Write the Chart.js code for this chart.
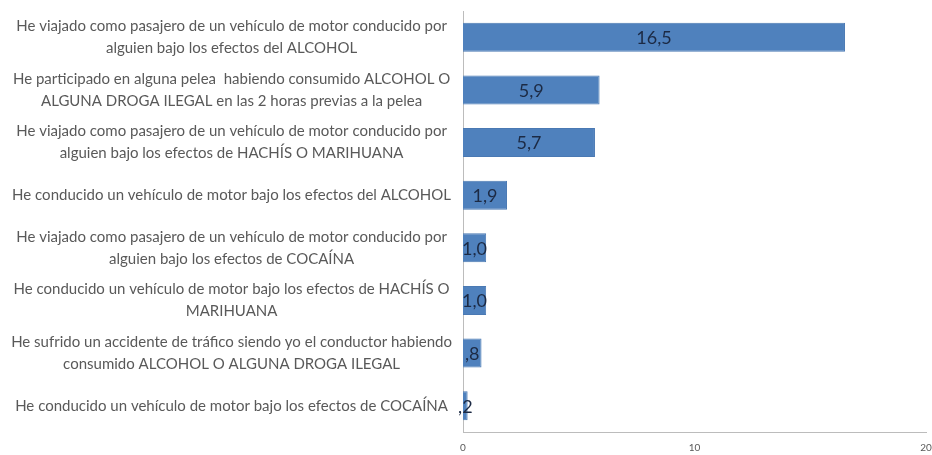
<!DOCTYPE html>
<html>
<head>
<meta charset="utf-8">
<script src="https://cdn.jsdelivr.net/npm/chart.js@4"></script>
<style>
  html, body { margin: 0; padding: 0; background: #fff; }
  #wrap { width: 932px; height: 455px; }
</style>
</head>
<body>
<div id="wrap"><canvas id="bar-chart"></canvas></div>
<script>
// conductas de riesgo (%)
const categorias = [
    ['He viajado como pasajero de un vehículo de motor conducido por', 'alguien bajo los efectos del ALCOHOL'],
    ['He participado en alguna pelea  habiendo consumido ALCOHOL O', 'ALGUNA DROGA ILEGAL en las 2 horas previas a la pelea'],
    ['He viajado como pasajero de un vehículo de motor conducido por', 'alguien bajo los efectos de HACHÍS O MARIHUANA'],
    'He conducido un vehículo de motor bajo los efectos del ALCOHOL',
    ['He viajado como pasajero de un vehículo de motor conducido por', 'alguien bajo los efectos de COCAÍNA'],
    ['He conducido un vehículo de motor bajo los efectos de HACHÍS O', 'MARIHUANA'],
    ['He sufrido un accidente de tráfico siendo yo el conductor habiendo', 'consumido ALCOHOL O ALGUNA DROGA ILEGAL'],
    'He conducido un vehículo de motor bajo los efectos de COCAÍNA'
]
const valores = [16.5, 5.9, 5.7, 1.9, 1.0, 1.0, 0.8, 0.2]
const ticksX = [0, 10, 20]

// formato tipo excel: coma decimal y sin cero delante
function formato(v) {
    let s = v.toFixed(1).replace('.', ',')
    if (s.startsWith('0,')) s = s.substring(1)
    return s
}

const etiquetasValor = {
    id: 'etiquetasValor',
    afterDatasetsDraw(chart) {
        const ctx = chart.ctx
        const meta = chart.getDatasetMeta(0)
        ctx.save()
        ctx.font = '18px Lato'
        ctx.fillStyle = '#1c2a44'
        ctx.textAlign = 'center'
        ctx.textBaseline = 'middle'
        meta.data.forEach(function (bar, i) {
            ctx.fillText(formato(valores[i]), (bar.x + bar.base) / 2, bar.y + 1)
        })
        ctx.restore()
    }
}

new Chart(document.getElementById('bar-chart'), {
    type: 'bar',
    data: {
        labels: categorias,
        datasets: [{
            data: valores,
            backgroundColor: '#4f81bd',
            borderColor: '#4a79b3',
            borderWidth: 1,
            barPercentage: 0.55,
            categoryPercentage: 1
        }]
    },
    options: {
        indexAxis: 'y',
        responsive: true,
        maintainAspectRatio: false,
        animation: false,
        layout: { padding: { top: 11, right: 6, bottom: 1, left: 0 } },
        plugins: {
            legend: { display: false },
            tooltip: { enabled: false }
        },
        scales: {
            x: {
                min: 0,
                max: 20,
                afterBuildTicks(scale) {
                    scale.ticks = ticksX.map(v => ({ value: v }))
                },
                afterFit(scale) {
                    scale.height = 22
                    scale.paddingLeft = 0
                    scale.paddingRight = 0
                },
                grid: { display: false, drawTicks: false },
                border: { display: true, color: '#bcbcbc', width: 1 },
                ticks: {
                    padding: 10,
                    color: '#595959',
                    font: { family: 'Lato', size: 10 },
                    maxRotation: 0
                }
            },
            y: {
                grid: { display: false, drawTicks: false },
                border: { display: true, color: '#bcbcbc', width: 1 },
                afterFit(scale) {
                    scale.width = 463
                    scale.paddingTop = 0
                    scale.paddingBottom = 0
                },
                ticks: {
                    crossAlign: 'center',
                    padding: 11,
                    color: '#595959',
                    font: { family: 'Lato', size: 15, lineHeight: 1.47 },
                    autoSkip: false
                }
            }
        }
    },
    plugins: [etiquetasValor]
})
</script>
</body>
</html>
